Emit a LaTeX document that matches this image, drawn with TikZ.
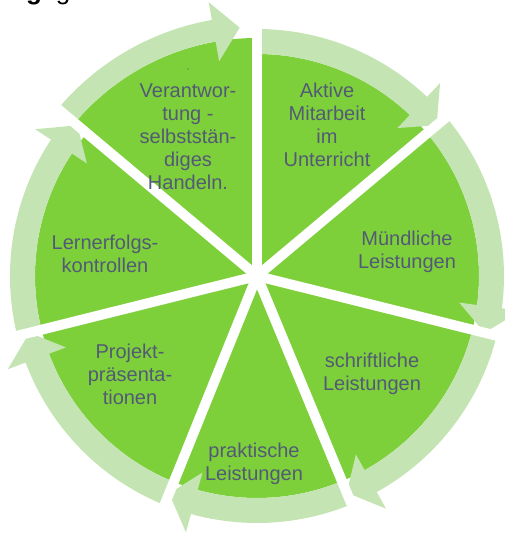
\documentclass[tikz,border=0pt]{standalone}
\usepackage{fontspec}
\setmainfont{Liberation Sans}
\usetikzlibrary{positioning}
\definecolor{slicegreen}{RGB}{126,208,59}
\definecolor{ringgreen}{RGB}{196,229,179}
\definecolor{labelblue}{RGB}{82,90,118}

\begin{document}
\begin{tikzpicture}[x=1pt,y=1pt,
  slice/.style={fill=slicegreen},
  ring/.style={fill=ringgreen},
  gap/.style={draw=white,line width=10pt},
  lbl/.style={text=labelblue,align=center,font=\fontsize{20}{23}\selectfont}]
\useasboundingbox (-257,-257) rectangle (247,276);
% heading, cut off at the top
\node[anchor=base,font=\fontsize{26}{30}\selectfont\bfseries](headbold) at (-223,276.5) {g};
\node[anchor=base,font=\fontsize{26}{30}\selectfont](headreg) at (-194,276.5) {g};
% slices
\fill[slice] (0,0) -- (140:238) arc[start angle=140,end angle=90,radius=238] -- cycle;
\fill[slice] (0,0) -- (90:222) arc[start angle=90,end angle=40,radius=222] -- cycle;
\fill[slice] (0,0) -- (40:222) arc[start angle=40,end angle=-14,radius=222] -- cycle;
\fill[slice] (0,0) -- (-14:222) arc[start angle=-14,end angle=-67.5,radius=222] -- cycle;
\fill[slice] (0,0) -- (-67.5:222) arc[start angle=-67.5,end angle=-112,radius=222] -- cycle;
\fill[slice] (0,0) -- (-112:222) arc[start angle=-112,end angle=-166,radius=222] -- cycle;
\fill[slice] (0,0) -- (-166:222) arc[start angle=-166,end angle=-220,radius=222] -- cycle;
% ring arrows, clockwise
\fill[ring] (140:238) arc[start angle=140,end angle=100,radius=238] -- (100:218) -- (94:249) -- (100:278) -- (100:260) arc[start angle=100,end angle=140,radius=260] -- cycle;
\fill[ring] (90:222) arc[start angle=90,end angle=46.5,radius=222] -- (46.5:204) -- (40:234.5) -- (46.5:266) -- (46.5:247) arc[start angle=46.5,end angle=90,radius=247] -- cycle;
\fill[ring] (40:222) arc[start angle=40,end angle=-7.5,radius=222] -- (-7.5:204) -- (-14:234.5) -- (-7.5:266) -- (-7.5:247) arc[start angle=-7.5,end angle=40,radius=247] -- cycle;
\fill[ring] (-14:222) arc[start angle=-14,end angle=-61,radius=222] -- (-61:204) -- (-67.5:234.5) -- (-61:266) -- (-61:247) arc[start angle=-61,end angle=-14,radius=247] -- cycle;
\fill[ring] (-67.5:222) arc[start angle=-67.5,end angle=-105.5,radius=222] -- (-105.5:204) -- (-112:234.5) -- (-105.5:266) -- (-105.5:247) arc[start angle=-105.5,end angle=-67.5,radius=247] -- cycle;
\fill[ring] (-112:222) arc[start angle=-112,end angle=-159.5,radius=222] -- (-159.5:204) -- (-166:234.5) -- (-159.5:266) -- (-159.5:247) arc[start angle=-159.5,end angle=-112,radius=247] -- cycle;
\fill[ring] (-166:222) arc[start angle=-166,end angle=-213.5,radius=222] -- (-213.5:204) -- (-220:234.5) -- (-213.5:266) -- (-213.5:247) arc[start angle=-213.5,end angle=-166,radius=247] -- cycle;
% white gaps
\draw[gap] (0,0) -- (140:290);
\draw[gap] (0,0) -- (90:290);
\draw[gap] (0,0) -- (40:290);
\draw[gap] (0,0) -- (-14:290);
\draw[gap] (0,0) -- (-67.5:290);
\draw[gap] (0,0) -- (-112:290);
\draw[gap] (0,0) -- (-166:290);
% labels
\node[lbl,font=\fontsize{8}{8}\selectfont](komma) at (-69,206) {,};
\node[lbl](verantwortung) at (-69,139) {Verantwor-\\tung -\\selbstst\"an-\\diges\\Handeln.};
\node[lbl](aktiv) at (70,151.5) {Aktive\\Mitarbeit\\im\\Unterricht};
\node[lbl](muendlich) at (150,24) {M\"undliche\\Leistungen};
\node[lbl](schriftlich) at (115,-97.5) {schriftliche\\Leistungen};
\node[lbl](praktisch) at (-3,-188) {praktische\\Leistungen};
\node[lbl](projekt) at (-127,-98.5) {Projekt-\\pr\"asenta-\\tionen};
\node[lbl](lernerfolg) at (-152,22) {Lernerfolgs-\\kontrollen};
\end{tikzpicture}
\end{document}
